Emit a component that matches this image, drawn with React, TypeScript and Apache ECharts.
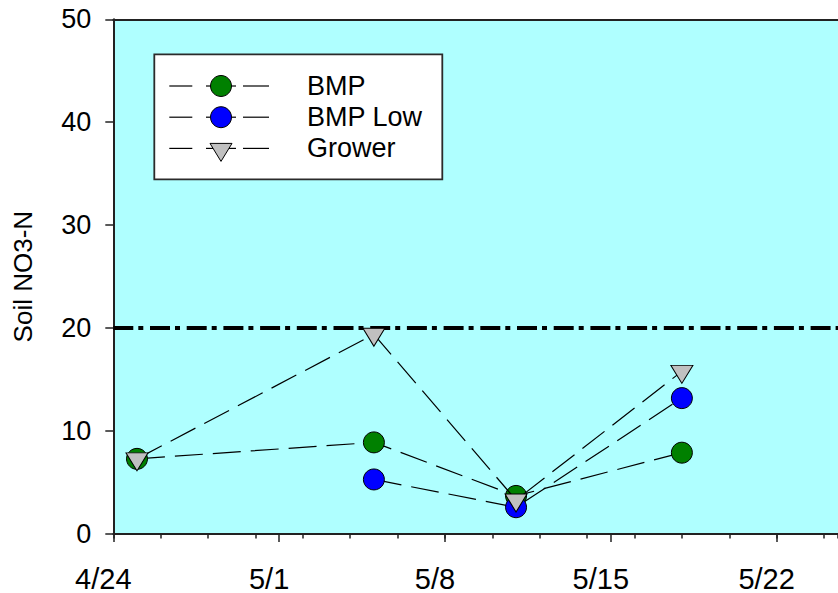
import React, { useEffect, useRef } from "react";
import * as echarts from "echarts";

// ---- data ----
const sampleDates = ["4/25", "5/5", "5/11", "5/18"];
const seriesNames = ["BMP", "BMP Low", "Grower"];
const bmpValues = [7.3, 8.9, 3.7, 7.9];
const bmpLowValues: (number | null)[] = [null, 5.3, 2.6, 13.2];
const growerValues = [7.3, 19.4, 3.3, 15.8];
const thresholdValue = 20;
const axisStartDate = "4/24";
const yTicks = { min: 0, max: 50, interval: 10 };

const seriesColors = ["#008000", "#0000FF", "#C0C0C0"];
const seriesSymbols = ["circle", "circle", "triangle"];

const FONT = "'Liberation Sans', Arial, sans-serif";

function parseMD(s: string): Date {
  const [m, d] = s.split("/").map(Number);
  return new Date(2000, m - 1, d);
}
const DAY = 86400000;
const startDate = parseMD(axisStartDate);
const dayOffset = (s: string) => Math.round((parseMD(s).getTime() - startDate.getTime()) / DAY);
const formatDay = (v: number) => {
  const d = new Date(startDate.getTime() + Math.round(v) * DAY);
  return `${d.getMonth() + 1}/${d.getDate()}`;
};

const X_MAX = 30.59;

export default function App() {
  const ref = useRef<HTMLDivElement>(null);
  useEffect(() => {
    if (!ref.current) return;
    const chart = echarts.init(ref.current, undefined, { renderer: "svg" });
    const allValues = [bmpValues, bmpLowValues, growerValues];
    const series: any[] = allValues.map((vals, i) => ({
      name: seriesNames[i],
      type: "line",
      xAxisIndex: 0,
      yAxisIndex: 0,
      data: vals.map((v, j) => [dayOffset(sampleDates[j]), v]),
      symbol: seriesSymbols[i],
      symbolSize: seriesSymbols[i] === "triangle" ? [22, 18] : 21,
      symbolRotate: seriesSymbols[i] === "triangle" ? 180 : 0,
      symbolOffset: seriesSymbols[i] === "triangle" ? [0, 3] : [0, 0],
      showAllSymbol: true,
      connectNulls: false,
      itemStyle: { color: seriesColors[i], borderColor: "#000", borderWidth: 1, opacity: 1 },
      lineStyle: { color: "#000", width: 1.2, type: [28, 10] },
      z: 3 + i,
      markLine:
        i === 0
          ? {
              silent: true,
              symbol: "none",
              label: { show: false },
              lineStyle: { color: "#000", width: 4, type: [20, 5, 5, 6.7] },
              data: [{ yAxis: thresholdValue }],
              z: 2,
            }
          : undefined,
    }));

    const rowGap = 31.2;
    const legendEls: any[] = [
      {
        type: "rect",
        shape: { x: 154.3, y: 54.3, width: 288, height: 125 },
        style: { fill: "#fff", stroke: "#2b2b2b", lineWidth: 1.8 },
        z: 10,
      },
    ];
    seriesNames.forEach((name, i) => {
      const y = 86 + i * rowGap;
      const ls = { stroke: "#000", lineWidth: 1.2 };
      legendEls.push(
        { type: "line", z: 11, shape: { x1: 169.3, y1: y, x2: 192.3, y2: y }, style: ls },
        { type: "line", z: 11, shape: { x1: 206, y1: y, x2: 236, y2: y }, style: ls },
        { type: "line", z: 11, shape: { x1: 243, y1: y, x2: 269, y2: y }, style: ls }
      );
      if (seriesSymbols[i] === "triangle") {
        legendEls.push({
          type: "polygon",
          z: 12,
          shape: { points: [[210, y - 5], [232, y - 5], [221, y + 13]] },
          style: { fill: seriesColors[i], stroke: "#000", lineWidth: 1 },
        });
      } else {
        legendEls.push({
          type: "circle",
          z: 12,
          shape: { cx: 221, cy: y, r: 10.5 },
          style: { fill: seriesColors[i], stroke: "#000", lineWidth: 1 },
        });
      }
      legendEls.push({
        type: "text",
        z: 12,
        x: 307,
        y: y,
        style: { text: name, fill: "#000", fontSize: 27, fontFamily: FONT, verticalAlign: "middle", align: "left" },
      });
    });

    chart.setOption({
      animation: false,
      grid: {
        left: 113.3,
        top: 19.3,
        right: 0,
        bottom: 58.3,
        show: true,
        backgroundColor: "#AFFFFF",
        borderWidth: 0,
      },
      xAxis: [
        {
          type: "value",
          position: "bottom",
          min: 0,
          max: X_MAX,
          interval: 7,
          axisLine: { show: true, onZero: false, lineStyle: { color: "#222", width: 2 } },
          axisTick: { show: true, inside: false, length: 8, lineStyle: { color: "#222", width: 1.5 } },
          axisLabel: {
            show: true,
            margin: 30,
            fontSize: 29,
            fontFamily: FONT,
            color: "#000",
            padding: [0, 20, 0, 0],
            showMaxLabel: false,
            formatter: (v: number) => formatDay(v),
          },
          splitLine: { show: false },
        },
        {
          type: "value",
          position: "bottom",
          min: 0,
          max: X_MAX,
          interval: 2,
          axisLine: { show: false, onZero: false },
          axisTick: { show: true, inside: false, length: 4.5, lineStyle: { color: "#222", width: 1.5 } },
          axisLabel: { show: false },
          splitLine: { show: false },
        },
        {
          type: "value",
          position: "top",
          min: 0,
          max: X_MAX,
          axisLine: { show: true, onZero: false, lineStyle: { color: "#222", width: 2 } },
          axisTick: { show: false },
          axisLabel: { show: false },
          splitLine: { show: false },
        },
      ],
      yAxis: {
        type: "value",
        min: yTicks.min,
        max: yTicks.max,
        interval: yTicks.interval,
        axisLine: { show: true, onZero: false, lineStyle: { color: "#222", width: 2 } },
        axisTick: { show: true, inside: false, length: 8, lineStyle: { color: "#222", width: 1.5 } },
        axisLabel: { margin: 22, fontSize: 27, fontFamily: FONT, color: "#000" },
        splitLine: { show: false },
        name: "Soil NO3-N",
        nameLocation: "middle",
        nameRotate: 90,
        nameGap: 77,
        nameTextStyle: { fontSize: 26, fontFamily: FONT, color: "#000" },
      },
      series,
      graphic: legendEls,
    });
    return () => chart.dispose();
  }, []);
  return (
    <div style={{ position: "fixed", left: 0, top: 0, width: 838, height: 593, overflow: "hidden", background: "#fff" }}>
      <div ref={ref} style={{ width: 838, height: 593 }} />
    </div>
  );
}
